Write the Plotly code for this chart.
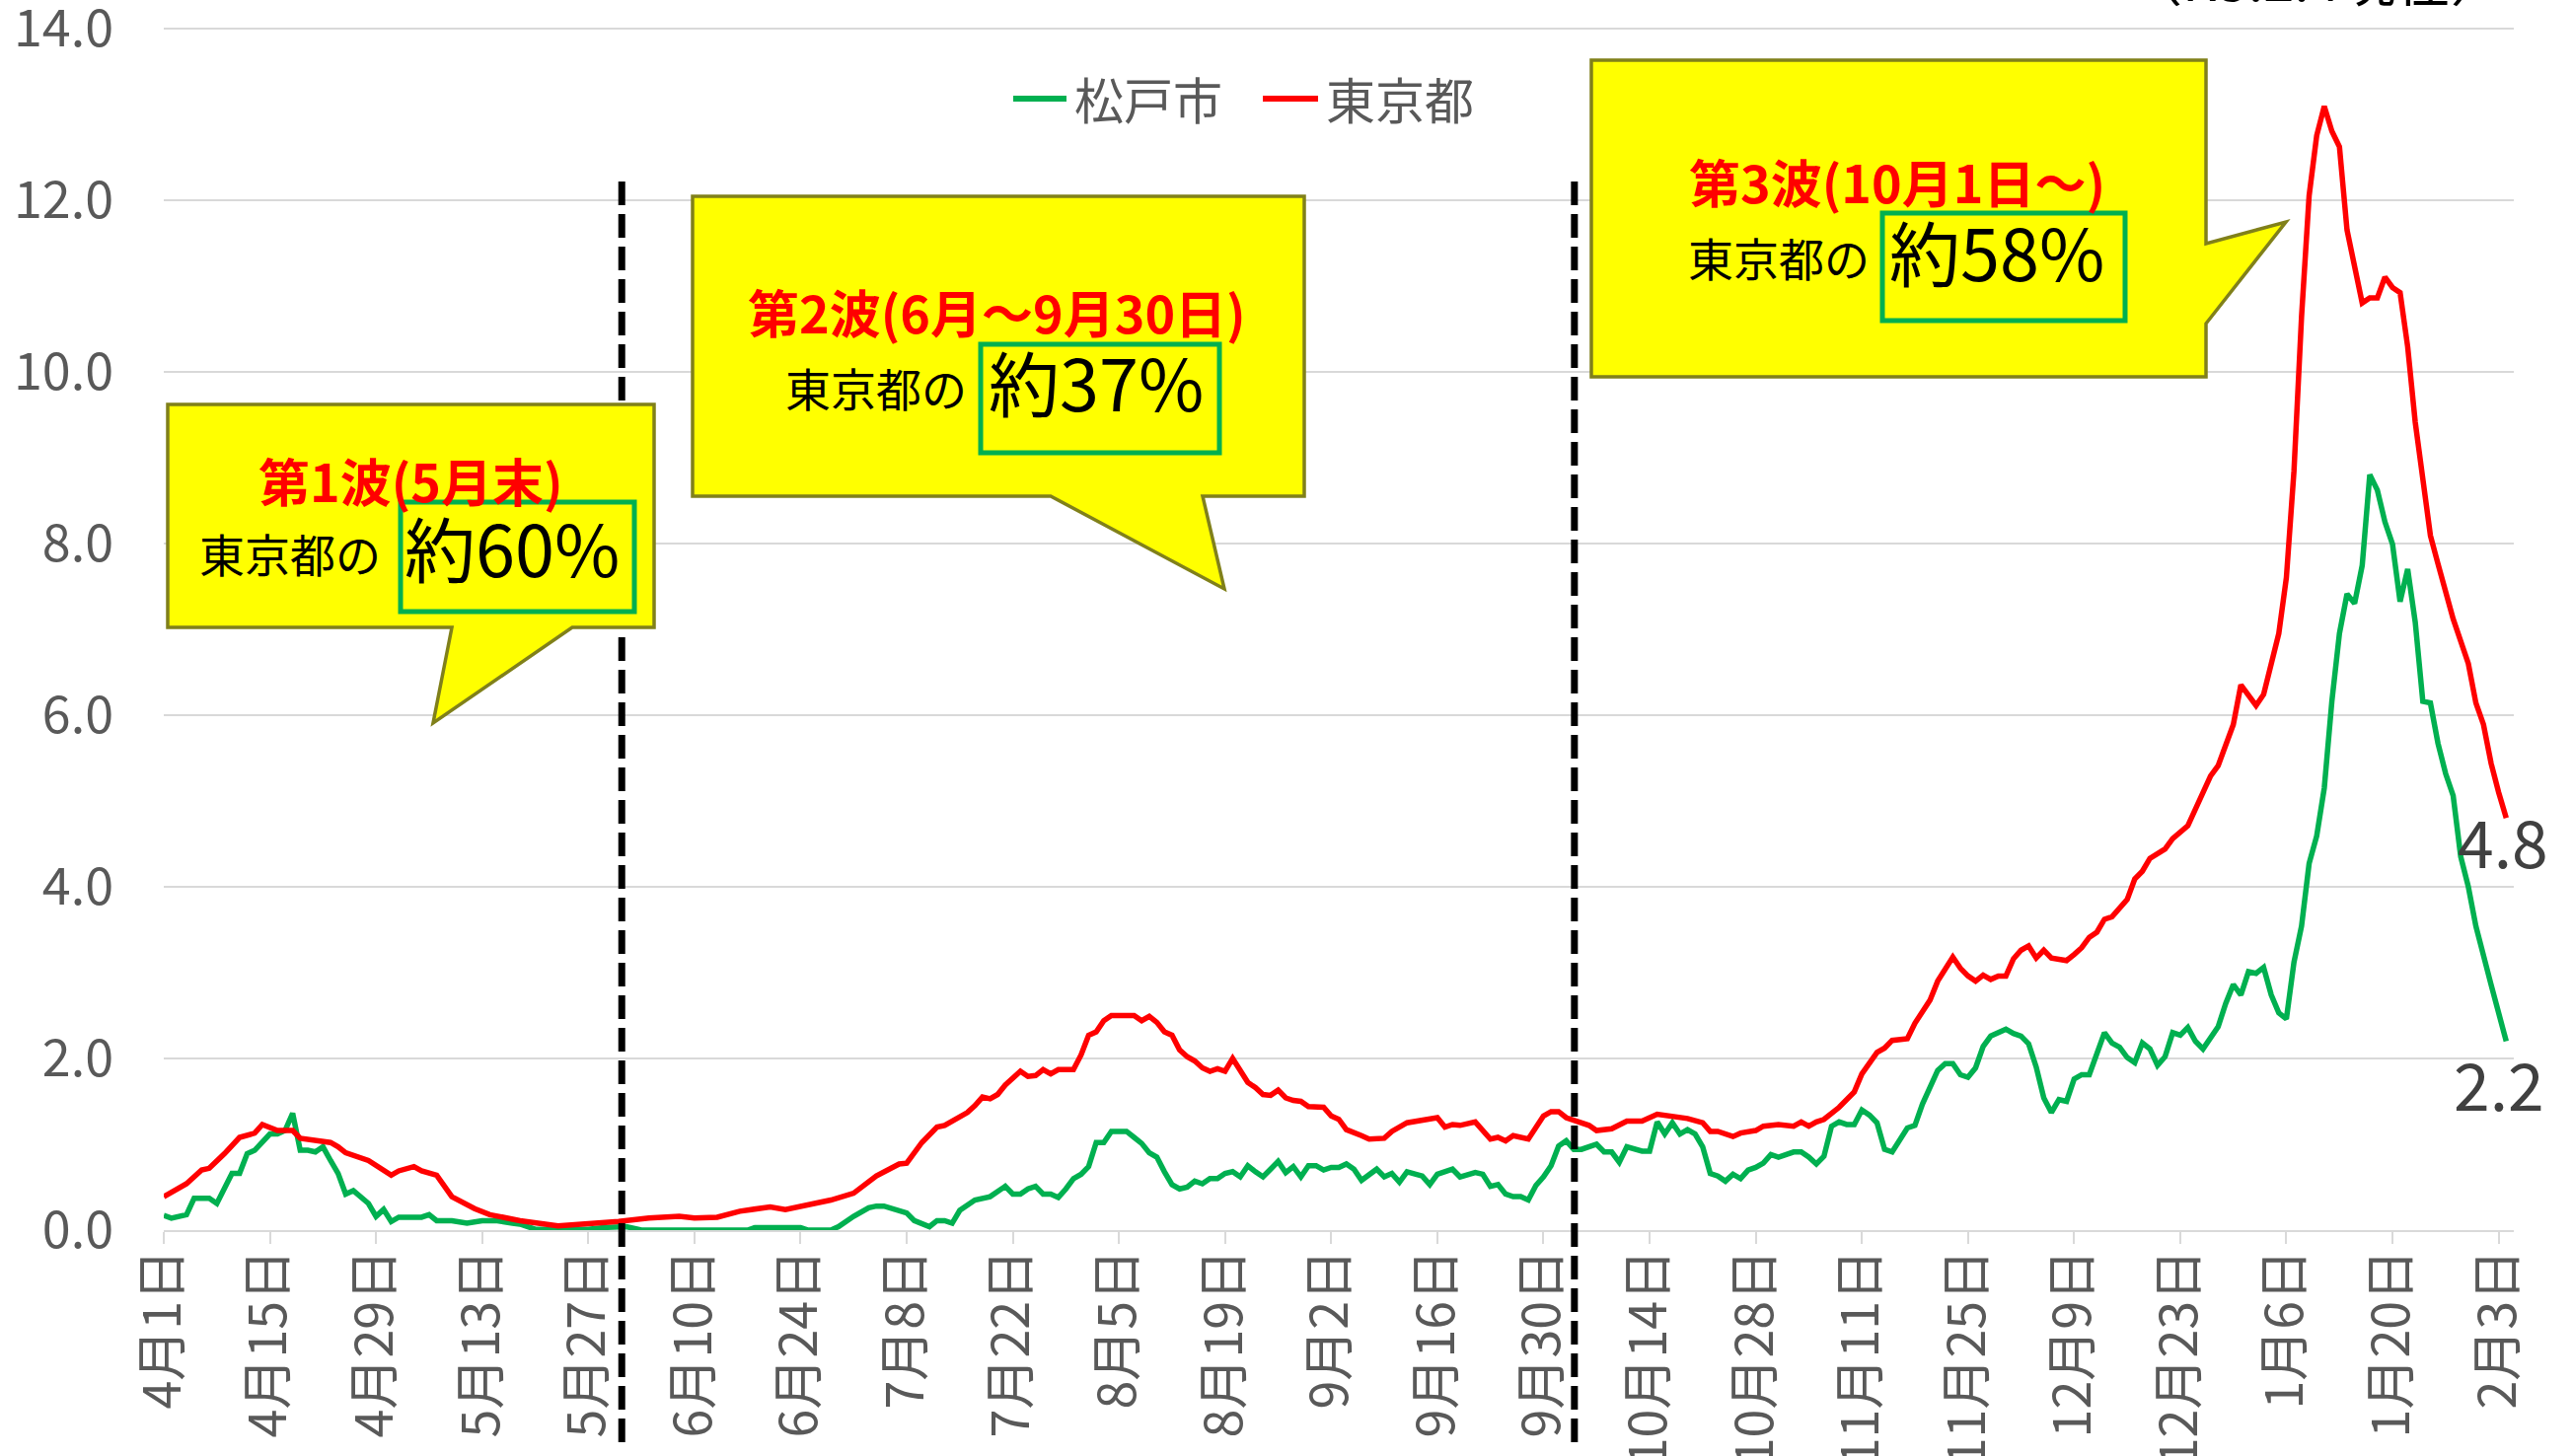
import pandas as pd
import plotly.graph_objects as go

# ---------------- data (day offsets from 2020-04-01) ----------------
base_date = "2020-04-01"

tokyo_days = [0, 3, 5, 6, 8, 10, 12, 13, 15, 17, 18, 20, 22, 23, 24, 27, 30, 31, 33, 34, 36, 38, 41, 43,
              47, 52, 57, 60, 64, 68, 70, 73, 76, 80, 82, 85, 88, 91, 94, 97, 98, 100, 101, 102, 103, 104,
              106, 107, 108, 109, 110, 111, 113, 114, 115, 116, 117, 118, 120, 121, 122, 123, 124, 125, 128,
              129, 130, 131, 132, 133, 134, 135, 136, 137, 138, 139, 140, 141, 142, 143, 144, 145, 146, 147,
              148, 149, 150, 151, 153, 154, 155, 156, 158, 159, 161, 162, 164, 166, 167, 168, 169, 170, 171,
              173, 175, 176, 177, 178, 180, 181, 182, 183, 184, 185, 187, 188, 189, 191, 193, 195, 197, 199,
              201, 203, 204, 205, 207, 208, 210, 211, 213, 215, 216, 217, 218, 219, 221, 223, 224, 226, 227,
              228, 230, 231, 233, 234, 236, 237, 238, 239, 240, 241, 242, 243, 244, 245, 246, 247, 248, 249,
              251, 252, 253, 254, 255, 256, 257, 259, 260, 261, 262, 264, 265, 267, 269, 270, 271, 272, 273,
              274, 275, 276, 277, 279, 280, 281, 282, 283, 284, 285, 286, 287, 288, 289, 290, 291, 292, 293,
              294, 295, 296, 297, 298, 299, 300, 302, 304, 305, 306, 307, 308, 309]
tokyo_vals = [0.39, 0.54, 0.70, 0.72, 0.89, 1.08, 1.13, 1.23, 1.16, 1.16, 1.07, 1.04, 1.02, 0.97, 0.90, 0.81,
              0.64, 0.69, 0.74, 0.69, 0.64, 0.39, 0.25, 0.18, 0.11, 0.05, 0.08, 0.10, 0.14, 0.16, 0.14, 0.15,
              0.22, 0.27, 0.24, 0.30, 0.35, 0.43, 0.63, 0.77, 0.78, 1.02, 1.10, 1.20, 1.22, 1.27, 1.37, 1.45,
              1.55, 1.53, 1.58, 1.69, 1.85, 1.79, 1.80, 1.87, 1.82, 1.87, 1.87, 2.04, 2.27, 2.31, 2.44, 2.50,
              2.50, 2.44, 2.49, 2.42, 2.31, 2.27, 2.10, 2.02, 1.97, 1.89, 1.85, 1.88, 1.85, 2.00, 1.87, 1.72,
              1.66, 1.58, 1.57, 1.63, 1.54, 1.51, 1.50, 1.44, 1.43, 1.33, 1.29, 1.17, 1.10, 1.06, 1.07, 1.15,
              1.25, 1.28, 1.29, 1.31, 1.20, 1.23, 1.22, 1.26, 1.06, 1.08, 1.04, 1.10, 1.06, 1.19, 1.33, 1.38,
              1.38, 1.31, 1.26, 1.22, 1.16, 1.18, 1.27, 1.27, 1.35, 1.32, 1.30, 1.25, 1.15, 1.15, 1.09, 1.13,
              1.16, 1.21, 1.23, 1.21, 1.26, 1.21, 1.26, 1.29, 1.43, 1.61, 1.82, 2.07, 2.12, 2.21, 2.23, 2.41,
              2.68, 2.90, 3.18, 3.05, 2.96, 2.90, 2.97, 2.92, 2.96, 2.96, 3.16, 3.26, 3.31, 3.17, 3.26, 3.17,
              3.14, 3.21, 3.29, 3.41, 3.47, 3.62, 3.65, 3.85, 4.09, 4.18, 4.33, 4.44, 4.56, 4.71, 5.12, 5.29,
              5.41, 5.67, 5.89, 6.35, 6.23, 6.11, 6.24, 6.95, 7.60, 8.84, 10.64, 12.05, 12.75, 13.09, 12.80,
              12.62, 11.65, 11.20, 10.80, 10.86, 10.86, 11.10, 10.98, 10.92, 10.29, 9.41, 8.71, 8.09, 7.76,
              7.12, 6.60, 6.14, 5.89, 5.44, 5.10, 4.80]

matsudo_days = [0, 1, 3, 4, 6, 7, 9, 10, 11, 12, 14, 15, 16, 17, 18, 19, 20, 21, 22, 23, 24, 25, 27, 28, 29,
                30, 31, 34, 35, 36, 38, 40, 42, 44, 46, 47, 49, 56, 58, 61, 63, 77, 78, 84, 85, 88, 89, 91,
                93, 94, 95, 98, 99, 101, 102, 103, 104, 105, 107, 109, 111, 112, 113, 114, 115, 116, 117, 118,
                119, 120, 121, 122, 123, 124, 125, 127, 128, 129, 130, 131, 132, 133, 134, 135, 136, 137, 138,
                139, 140, 141, 142, 143, 144, 145, 146, 147, 148, 149, 150, 151, 152, 153, 154, 155, 156, 157,
                158, 159, 160, 161, 162, 163, 164, 166, 167, 168, 170, 171, 173, 174, 175, 176, 177, 178, 179,
                180, 181, 182, 183, 184, 185, 186, 187, 189, 190, 191, 192, 193, 195, 196, 197, 198, 199, 200,
                201, 202, 203, 204, 205, 206, 207, 208, 209, 210, 211, 212, 213, 215, 216, 217, 218, 219, 220,
                221, 222, 223, 224, 225, 226, 227, 228, 230, 231, 232, 233, 234, 235, 236, 237, 238, 239, 240,
                241, 243, 244, 245, 246, 247, 248, 249, 250, 251, 252, 253, 254, 255, 256, 257, 258, 259, 260,
                261, 262, 263, 264, 265, 266, 267, 268, 269, 270, 271, 272, 273, 274, 275, 276, 277, 278, 279,
                280, 281, 282, 283, 284, 285, 286, 287, 288, 289, 290, 291, 292, 293, 294, 295, 296, 297, 298,
                299, 300, 301, 302, 303, 304, 305, 307, 308, 309]
matsudo_vals = [0.17, 0.14, 0.18, 0.37, 0.37, 0.31, 0.66, 0.66, 0.89, 0.93, 1.12, 1.12, 1.16, 1.36, 0.93, 0.93,
                0.91, 0.97, 0.81, 0.66, 0.42, 0.46, 0.31, 0.16, 0.24, 0.10, 0.15, 0.15, 0.18, 0.11, 0.11, 0.08,
                0.11, 0.11, 0.08, 0.07, 0.01, 0.01, 0.03, 0.04, 0.00, 0.00, 0.03, 0.03, 0.00, 0.00, 0.04, 0.16,
                0.26, 0.28, 0.28, 0.20, 0.11, 0.04, 0.11, 0.11, 0.08, 0.23, 0.35, 0.39, 0.51, 0.42, 0.42, 0.48,
                0.51, 0.42, 0.42, 0.38, 0.48, 0.60, 0.65, 0.74, 1.02, 1.02, 1.15, 1.15, 1.08, 1.01, 0.90, 0.85,
                0.68, 0.53, 0.48, 0.50, 0.57, 0.54, 0.60, 0.60, 0.66, 0.68, 0.62, 0.75, 0.68, 0.62, 0.71, 0.80,
                0.67, 0.74, 0.62, 0.75, 0.75, 0.70, 0.73, 0.73, 0.77, 0.71, 0.58, 0.65, 0.71, 0.62, 0.66, 0.56,
                0.68, 0.63, 0.53, 0.65, 0.71, 0.62, 0.67, 0.65, 0.51, 0.53, 0.42, 0.39, 0.39, 0.35, 0.52, 0.62,
                0.75, 0.98, 1.04, 0.94, 0.94, 1.00, 0.91, 0.91, 0.79, 0.97, 0.92, 0.92, 1.26, 1.12, 1.25, 1.12,
                1.17, 1.12, 0.97, 0.66, 0.63, 0.57, 0.65, 0.60, 0.70, 0.73, 0.78, 0.88, 0.85, 0.91, 0.91, 0.85,
                0.77, 0.86, 1.21, 1.26, 1.23, 1.23, 1.40, 1.34, 1.25, 0.94, 0.91, 1.19, 1.22, 1.47, 1.65, 1.86,
                1.94, 1.94, 1.81, 1.78, 1.89, 2.14, 2.26, 2.34, 2.29, 2.26, 2.17, 1.90, 1.54, 1.37, 1.52, 1.50,
                1.76, 1.81, 1.81, 2.05, 2.30, 2.18, 2.13, 2.01, 1.95, 2.18, 2.11, 1.92, 2.02, 2.30, 2.27, 2.36,
                2.20, 2.11, 2.24, 2.37, 2.64, 2.86, 2.74, 3.01, 2.99, 3.06, 2.74, 2.53, 2.46, 3.12, 3.54, 4.27,
                4.59, 5.15, 6.16, 6.95, 7.41, 7.30, 7.74, 8.80, 8.62, 8.25, 7.99, 7.32, 7.70, 7.08, 6.16, 6.14,
                5.67, 5.32, 5.06, 4.35, 4.00, 3.54, 2.86, 2.53, 2.20]

series_names = ["松戸市", "東京都"]
series_colors = ["#00B050", "#FF0000"]
wave_boundaries = ["2020-05-31 10:00", "2020-10-04 02:00"]
wave_titles = ["第1波(5月末)", "第2波(6月～9月30日)", "第3波(10月1日～)"]
wave_shares = ["約60%", "約37%", "約58%"]
wave_prefix = "東京都の"
asof_text = "（R3.2.4現在）"
y_ticks = [0, 2, 4, 6, 8, 10, 12, 14]

# ---------------- figure ----------------
W, H = 2608, 1476
L, R, T, B = 166, 60, 26, 229
PW, PH = W - L - R, H - T - B
FONT = "Noto Sans CJK JP"
GRAY = "#595959"


def px(x):
    return (x - L) / PW


def py(y):
    return (H - B - y) / PH


base = pd.Timestamp(base_date)
tokyo_dates = base + pd.to_timedelta(tokyo_days, unit="D")
matsudo_dates = base + pd.to_timedelta(matsudo_days, unit="D")

fig = go.Figure()
fig.add_trace(go.Scatter(x=matsudo_dates, y=matsudo_vals, mode="lines", name=series_names[0],
                         line=dict(color=series_colors[0], width=5.5)))
fig.add_trace(go.Scatter(x=tokyo_dates, y=tokyo_vals, mode="lines", name=series_names[1],
                         line=dict(color=series_colors[1], width=5.5)))

shapes = []
annotations = []

# legend (drawn manually so the key lines are as long as in the original)
legend_items = [(1027, 1081, 1087), (1280, 1336, 1342)]
for (lx0, lx1, tx), name, col in zip(legend_items, series_names, series_colors):
    shapes.append(dict(type="line", xref="paper", yref="paper", x0=px(lx0), x1=px(lx1), y0=py(100), y1=py(100),
                       line=dict(color=col, width=6), layer="above"))
    annotations.append(dict(xref="paper", yref="paper", x=px(tx), y=py(99), text=name, showarrow=False,
                            xanchor="left", yanchor="middle", font=dict(family=FONT, size=50, color=GRAY)))

# wave boundaries (dashed)
for d in wave_boundaries:
    shapes.append(dict(type="line", xref="x", yref="paper", x0=d, x1=d, y0=py(1462), y1=py(176),
                       line=dict(color="black", width=7, dash="24px,9px"), layer="above"))

# callouts
callouts = [
    [(170, 410), (663, 410), (663, 636), (580, 636), (439, 733), (458, 636), (170, 636)],
    [(702, 199), (1322, 199), (1322, 503), (1219, 503), (1241, 597), (1065, 503), (702, 503)],
    [(1613, 61), (2236, 61), (2236, 247), (2317, 225), (2236, 328), (2236, 382), (1613, 382)],
]
for poly in callouts:
    path = "M " + " L ".join(f"{px(x):.5f},{py(y):.5f}" for x, y in poly) + " Z"
    shapes.append(dict(type="path", xref="paper", yref="paper", path=path, fillcolor="#FFFF00",
                       line=dict(color="#80801A", width=3.5), layer="above"))

boxes = [(406, 509, 643, 620), (994, 349, 1236, 459), (1908, 216, 2154, 325)]
for x0, y0, x1, y1 in boxes:
    shapes.append(dict(type="rect", xref="paper", yref="paper", x0=px(x0), x1=px(x1), y0=py(y1), y1=py(y0),
                       line=dict(color="#00B050", width=5), fillcolor="rgba(0,0,0,0)", layer="above"))

title_pos = [(416, 486), (1010, 315), (1923, 183)]
prefix_pos = [(388, 560), (982, 392), (1897, 260)]
share_pos = [(408, 553), (1000, 385), (1913, 253)]
for i in range(3):
    annotations.append(dict(xref="paper", yref="paper", x=px(title_pos[i][0]), y=py(title_pos[i][1]),
                            text="<b>" + wave_titles[i] + "</b>", showarrow=False, xanchor="center",
                            yanchor="middle", font=dict(family=FONT, size=52, color="#FF0000")))
    annotations.append(dict(xref="paper", yref="paper", x=px(prefix_pos[i][0]), y=py(prefix_pos[i][1]),
                            text=wave_prefix, showarrow=False, xanchor="right", yanchor="middle",
                            font=dict(family=FONT, size=46, color="black")))
    annotations.append(dict(xref="paper", yref="paper", x=px(share_pos[i][0]), y=py(share_pos[i][1]),
                            text=wave_shares[i], showarrow=False, xanchor="left", yanchor="middle",
                            font=dict(family=FONT, size=72, color="black")))

# end labels
annotations.append(dict(x=tokyo_dates[-1], y=tokyo_vals[-1], text=f"{tokyo_vals[-1]:.1f}", showarrow=False,
                        xanchor="center", yanchor="middle", xshift=-3, yshift=-22,
                        font=dict(family=FONT, size=66, color="#404040")))
annotations.append(dict(x=matsudo_dates[-1], y=matsudo_vals[-1], text=f"{matsudo_vals[-1]:.1f}",
                        showarrow=False, xanchor="center", yanchor="middle", xshift=-7, yshift=-41,
                        font=dict(family=FONT, size=66, color="#404040")))
# as-of note (cut at the top edge, as in the original)
annotations.append(dict(xref="paper", yref="paper", x=px(2348), y=py(19), text=asof_text, showarrow=False,
                        xanchor="center", yanchor="bottom", font=dict(family=FONT, size=56, color="black")))

fig.update_layout(
    width=W, height=H, autosize=False,
    margin=dict(l=L, r=R, t=T, b=B, autoexpand=False),
    paper_bgcolor="white", plot_bgcolor="white",
    font=dict(family=FONT, color=GRAY),
    showlegend=False,
    shapes=shapes, annotations=annotations,
)
fig.update_xaxes(
    type="date", range=["2020-04-01", "2021-02-05"], tick0=base_date, dtick=14 * 86400000,
    tickformat="%-m月%-d日", tickangle=-90, showgrid=False, showline=True, linecolor="#D9D9D9",
    linewidth=2, ticks="outside", ticklen=12, tickwidth=2, tickcolor="#D9D9D9",
    tickfont=dict(family=FONT, size=52, color=GRAY), automargin=False, zeroline=False,
    ticklabelstandoff=-15, ticklabeloverflow="allow",
)
fig.update_yaxes(
    range=[0, 14.03], tickvals=y_ticks, tickformat=".1f", showgrid=True, gridcolor="#D9D9D9", gridwidth=2,
    zeroline=False, showline=False, ticks="", tickfont=dict(family=FONT, size=52, color=GRAY),
    automargin=False, ticklabelstandoff=50, ticklabeloverflow="allow",
)

fig.write_html("out.html", config={"displayModeBar": False},
               post_script="document.body.style.margin='0px';")
